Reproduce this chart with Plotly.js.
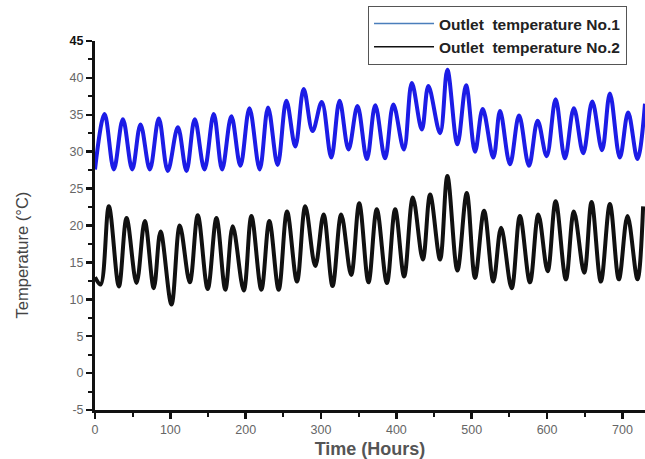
<!DOCTYPE html>
<html>
<head>
<meta charset="utf-8">
<script src="https://cdn.plot.ly/plotly-3.0.1.min.js"></script>
<style>html,body{margin:0;padding:0;background:#fff;}#chart{width:645px;height:459px;}</style>
</head>
<body>
<div id="chart"></div>
<script>
// Outlet temperature No.1 (blue) – peaks and troughs
var blueHours = [0, 12.7, 25, 37, 49.4, 60.4, 72.8, 84.7, 96.6, 110,
  121.4, 132.4, 145.3, 157.6, 168.7, 181, 193, 205, 218.6, 229.7,
  242.4, 254, 265.9, 277, 288.8, 301, 313.6, 324.6, 336.5, 348.4,
  360.9, 372, 385, 396, 410, 420.5, 433.8, 442.5, 458, 467.7,
  481, 492.5, 504.4, 514.6, 528.7, 537.6, 550.8, 562.8, 576, 587.5,
  599.5, 611.4, 623.7, 635.6, 648, 660, 673, 683.4, 696.6, 707.6,
  720, 730];
var blueTemp = [27.6, 35.1, 27.6, 34.4, 27.6, 33.7, 27.6, 34.5, 27.4, 33.3,
  27.4, 34.4, 27.6, 35.1, 27.6, 34.8, 28.1, 35.9, 27.6, 36.0,
  28.2, 36.9, 30.7, 38.5, 32.8, 36.75, 29.2, 36.9, 30.3, 36.2,
  29.0, 36.3, 29.1, 36.4, 30.3, 39.3, 33.0, 38.9, 32.5, 41.1,
  31.0, 39.0, 30.0, 35.8, 29.2, 35.5, 28.3, 34.9, 28.1, 34.2,
  29.4, 37.1, 29.1, 35.9, 29.8, 36.8, 30.2, 37.9, 29.2, 35.3,
  29.0, 36.5];

// Outlet temperature No.2 (black)
var blackHours = [0, 7.4, 18.4, 31.7, 41.9, 55.1, 66.1, 78, 87, 101.5,
  112.5, 125.8, 136.4, 149.6, 161.2, 173, 182.8, 197.4, 207.6, 220.8,
  231.4, 243.8, 254.9, 268.1, 279.1, 292.4, 303.4, 315.3, 326.8, 340,
  350.7, 363, 374, 387.4, 398.4, 410.3, 421.9, 435.1, 444.8, 458,
  467.7, 481, 493.4, 504.4, 516.4, 528.7, 539, 553, 564, 577.3,
  588.4, 600.8, 611.4, 625, 635.6, 649.3, 659.1, 671.4, 683.4, 695.3,
  706.8, 720, 727.5];
var blackTemp = [13, 12.0, 22.6, 11.75, 21.0, 12.2, 20.6, 11.5, 19.2, 9.3,
  20.0, 12.3, 21.4, 11.4, 21.0, 11.3, 19.9, 11.2, 21.3, 11.3,
  20.6, 11.3, 21.9, 12.4, 22.6, 14.5, 21.5, 11.8, 21.5, 13.3,
  23.0, 12.3, 22.2, 12.2, 22.2, 13.1, 23.8, 15.4, 24.2, 15.4,
  26.7, 13.9, 24.4, 12.9, 22.0, 12.4, 19.7, 11.5, 21.3, 12.3,
  21.5, 13.8, 23.3, 12.7, 21.9, 13.6, 23.2, 12.4, 22.9, 12.7,
  21.3, 12.7, 22.6];

var seriesNames = ['Outlet\u00a0 temperature No.1', 'Outlet\u00a0 temperature No.2'];

var xTickVals = [0, 100, 200, 300, 400, 500, 600, 700];
var xTickText = ['0', '100', '200', '300', '400', '500', '600', '700'];
var yTickVals = [-5, 0, 5, 10, 15, 20, 25, 30, 35, 40, 45];
var yTickText = ['-5', '0', '5', '10', '15', '20', '25', '30', '35', '40',
  '<b><span style="color:#111">45</span></b>'];

var traces = [
  {x: blueHours, y: blueTemp, mode: 'lines', line: {color: '#1c1ce6', width: 4, shape: 'spline', smoothing: 1}, showlegend: false, hoverinfo: 'skip'},
  {x: blackHours, y: blackTemp, mode: 'lines', line: {color: '#111111', width: 4, shape: 'spline', smoothing: 1}, showlegend: false, hoverinfo: 'skip'},
  {x: [null], y: [null], mode: 'lines', line: {color: '#4a7ebb', width: 1.5}, name: '<b>' + seriesNames[0] + '</b>'},
  {x: [null], y: [null], mode: 'lines', line: {color: '#111111', width: 1.5}, name: '<b>' + seriesNames[1] + '</b>'}
];

var layout = {
  width: 645, height: 459,
  margin: {l: 95, r: 0, t: 41, b: 49, pad: 0},
  paper_bgcolor: '#ffffff', plot_bgcolor: '#ffffff',
  font: {family: 'Liberation Sans, Arial, sans-serif', color: '#555'},
  xaxis: {
    range: [0, 730], tickmode: 'array', tickvals: xTickVals, ticktext: xTickText,
    ticks: 'outside', ticklen: 6, tickwidth: 2.5, tickcolor: '#111',
    showline: true, linewidth: 3, linecolor: '#111', showgrid: false, zeroline: false,
    tickfont: {size: 12.5, color: '#666'},
    minor: {tickmode: 'linear', tick0: 50, dtick: 100, ticks: 'outside', ticklen: 4, tickwidth: 2, tickcolor: '#111', showgrid: false},
    title: {text: '<b>Time (Hours)</b>', font: {size: 18, color: '#555'}, standoff: 10}
  },
  yaxis: {
    range: [-5, 45], tickmode: 'array', tickvals: yTickVals, ticktext: yTickText,
    ticks: 'outside', ticklen: 6, tickwidth: 2.5, tickcolor: '#111',
    showline: true, linewidth: 3, linecolor: '#111', showgrid: false, zeroline: false,
    tickfont: {size: 12.5, color: '#666'},
    minor: {tickmode: 'linear', tick0: -2.5, dtick: 5, ticks: 'outside', ticklen: 4, tickwidth: 2, tickcolor: '#111', showgrid: false}
  },
  legend: {
    x: 0.4964, y: 1.095, xanchor: 'left', yanchor: 'top',
    bordercolor: '#555', borderwidth: 1, bgcolor: '#ffffff',
    font: {size: 15.5, color: '#222', family: 'Liberation Sans, Arial, sans-serif'},
    traceorder: 'normal', itemwidth: 60
  },
  annotations: [{
    text: 'Temperature (°C)', xref: 'paper', yref: 'paper', x: -0.152, y: 0.42,
    textangle: -90, showarrow: false, font: {size: 16.5, color: '#444'}
  }]
};

Plotly.newPlot('chart', traces, layout, {displayModeBar: false, staticPlot: true});
</script>
</body>
</html>
